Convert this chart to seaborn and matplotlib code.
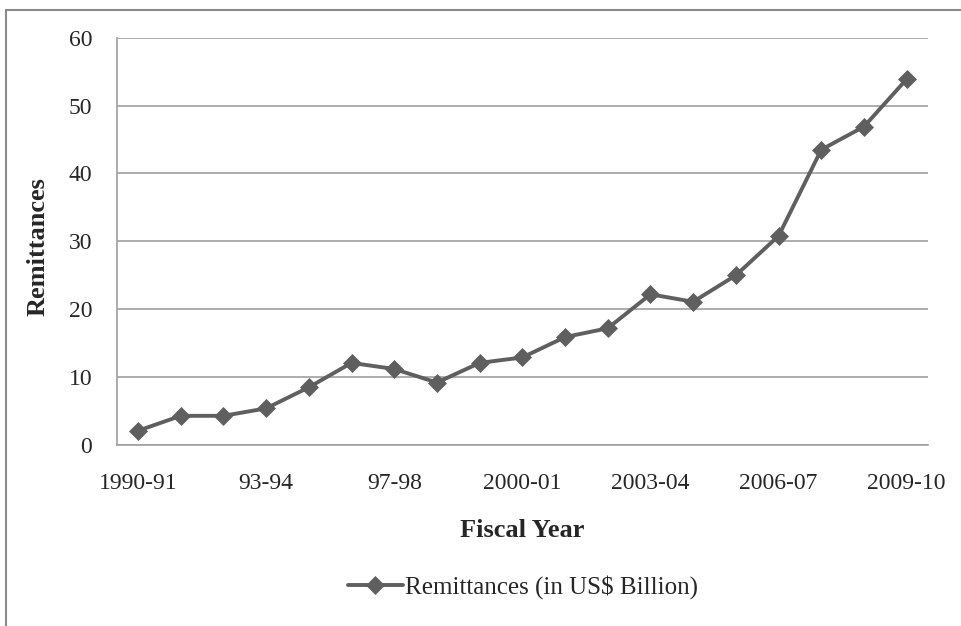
import pandas as pd
import matplotlib.pyplot as plt
import seaborn as sns
from matplotlib.lines import Line2D

# Data
years = ['1990-91', '91-92', '92-93', '93-94', '94-95', '95-96', '97-98',
         '98-99', '99-00', '2000-01', '2001-02', '2002-03', '2003-04',
         '2004-05', '2005-06', '2006-07', '2007-08', '2008-09', '2009-10']
remittances = [2.1, 4.3, 4.3, 5.4, 8.5, 12.1, 11.2, 9.2, 12.1, 12.9,
               15.9, 17.2, 22.2, 21.1, 25.0, 30.8, 43.5, 46.9, 53.9]
shown_ticks = ['1990-91', '93-94', '97-98', '2000-01', '2003-04', '2006-07', '2009-10']
y_ticks = [0, 10, 20, 30, 40, 50, 60]

df = pd.DataFrame({'year': years, 'value': remittances})

sns.set_style('white')
plt.rcParams['font.family'] = ['Liberation Serif', 'DejaVu Serif']

line_color = '#5f5f5f'
grid_color = '#a0a0a0'

fig = plt.figure(figsize=(9.61, 6.26), dpi=100)
ax = fig.add_axes([0.1214, 0.2891, 0.8443, 0.6507])

sns.lineplot(data=df, x='year', y='value', ax=ax, color=line_color,
             linewidth=2.8, marker='D', markersize=9.5, markeredgewidth=0.5,
             markeredgecolor=line_color, sort=False)

ax.set_xlim(-0.5, len(years) - 0.5)
ax.set_ylim(0, 60)
ax.set_yticks(y_ticks)
ax.set_yticklabels([str(t) for t in y_ticks], fontsize=17)
ax.set_xticks([years.index(t) for t in shown_ticks])
ax.set_xticklabels(shown_ticks, fontsize=17)
ax.tick_params(axis='x', length=0, pad=20)
ax.tick_params(axis='y', length=6.5, width=1, color=grid_color, direction='out', pad=11)

ax.yaxis.grid(True, color=grid_color, linewidth=1.2)
ax.set_axisbelow(True)
for side in ['top', 'right']:
    ax.spines[side].set_visible(False)
for side in ['left', 'bottom']:
    ax.spines[side].set_color(grid_color)
    ax.spines[side].set_linewidth(1.2)

ax.set_xlabel('Fiscal Year', fontsize=19, fontweight='bold', va='center')
ax.xaxis.set_label_coords(0.5, -0.211)
ax.set_ylabel('Remittances', fontsize=19, fontweight='bold', va='center')
ax.yaxis.set_label_coords(-0.097, 0.487)

handle = Line2D([], [], color=line_color, linewidth=2.8, marker='D',
                markersize=9.5, markeredgewidth=0.5, markeredgecolor=line_color)
fig.legend([handle], ['Remittances (in US$ Billion)'], loc='center',
           bbox_to_anchor=(0.544, 0.0623), frameon=False, fontsize=18,
           handlelength=2.2, handletextpad=0.1, borderpad=0)

# chart border (left and top edges visible in the reference)
fig.add_artist(Line2D([0.0065, 0.0065], [0, 0.984], color='#8a8a8a', linewidth=1.5))
fig.add_artist(Line2D([0.0065, 1], [0.984, 0.984], color='#8a8a8a', linewidth=1.5))

fig.savefig('out.png', dpi=100)
